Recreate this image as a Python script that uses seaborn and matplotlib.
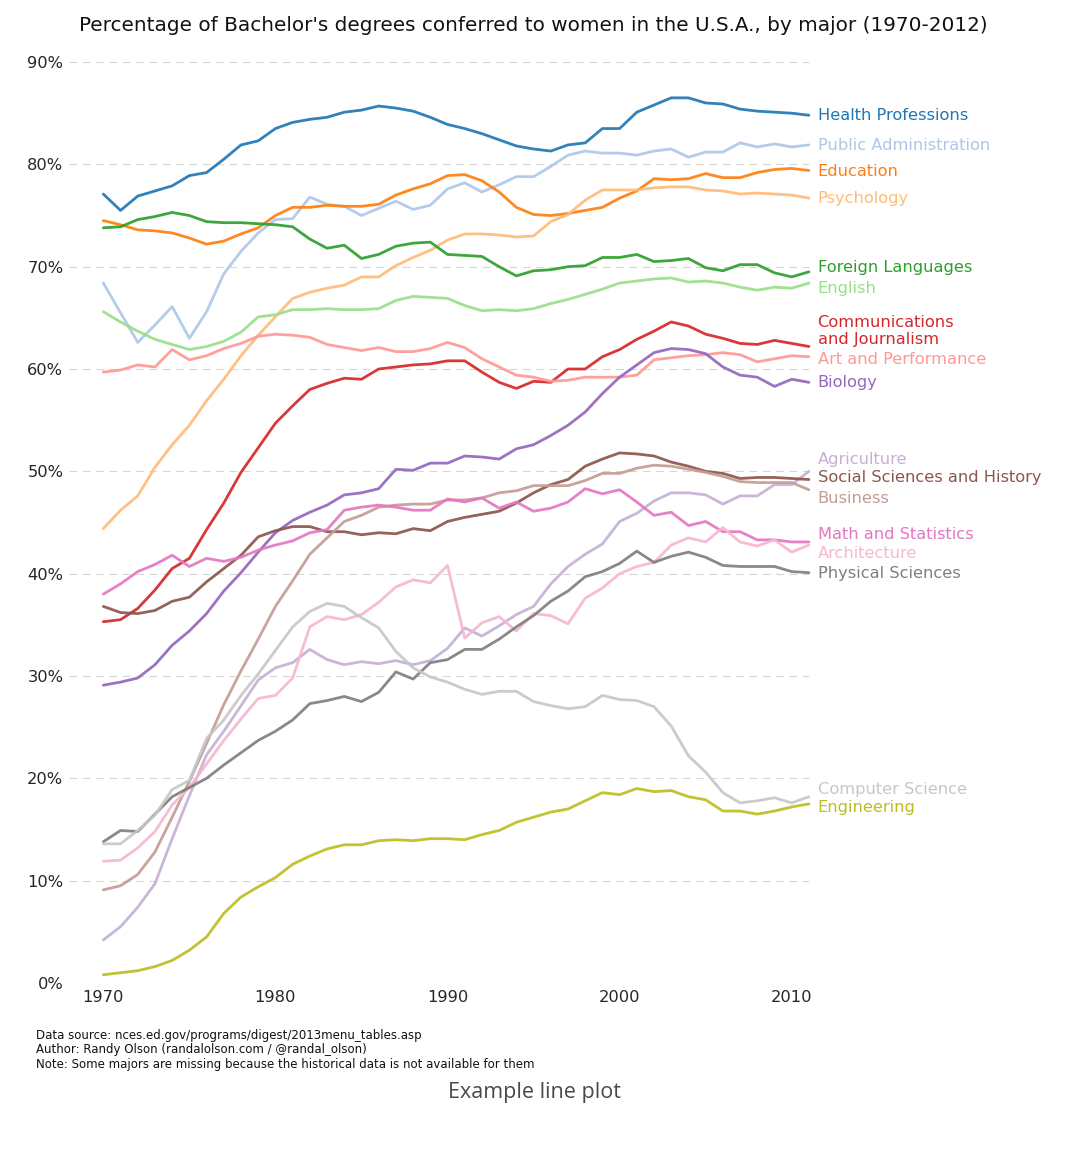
import matplotlib
matplotlib.use("Agg")
import matplotlib.pyplot as plt
import pandas as pd
import seaborn as sns

# Percentage of bachelor's degrees conferred to women, 1970-2011
years = list(range(1970, 2012))

health = [77.1, 75.5, 76.9, 77.4, 77.9, 78.9, 79.2, 80.5, 81.9, 82.3, 83.5, 84.1, 84.4, 84.6,
          85.1, 85.3, 85.7, 85.5, 85.2, 84.6, 83.9, 83.5, 83.0, 82.4, 81.8, 81.5, 81.3, 81.9,
          82.1, 83.5, 83.5, 85.1, 85.8, 86.5, 86.5, 86.0, 85.9, 85.4, 85.2, 85.1, 85.0, 84.8]
public_admin = [68.4, 65.5, 62.6, 64.3, 66.1, 63.0, 65.6, 69.3, 71.5, 73.3, 74.6, 74.7, 76.8, 76.1,
                75.9, 75.0, 75.7, 76.4, 75.6, 76.0, 77.6, 78.2, 77.3, 78.0, 78.8, 78.8, 79.8, 80.9,
                81.3, 81.1, 81.1, 80.9, 81.3, 81.5, 80.7, 81.2, 81.2, 82.1, 81.7, 82.0, 81.7, 81.9]
education = [74.5, 74.1, 73.6, 73.5, 73.3, 72.8, 72.2, 72.5, 73.2, 73.8, 75.0, 75.8, 75.8, 76.0,
             75.9, 75.9, 76.1, 77.0, 77.6, 78.1, 78.9, 79.0, 78.4, 77.3, 75.8, 75.1, 75.0, 75.2,
             75.5, 75.8, 76.7, 77.4, 78.6, 78.5, 78.6, 79.1, 78.7, 78.7, 79.2, 79.5, 79.6, 79.4]
psychology = [44.4, 46.2, 47.6, 50.4, 52.6, 54.5, 56.9, 59.0, 61.3, 63.3, 65.1, 66.9, 67.5, 67.9,
              68.2, 69.0, 69.0, 70.1, 70.9, 71.6, 72.6, 73.2, 73.2, 73.1, 72.9, 73.0, 74.4, 75.1,
              76.5, 77.5, 77.5, 77.5, 77.7, 77.8, 77.8, 77.5, 77.4, 77.1, 77.2, 77.1, 77.0, 76.7]
foreign_lang = [73.8, 73.9, 74.6, 74.9, 75.3, 75.0, 74.4, 74.3, 74.3, 74.2, 74.1, 73.9, 72.7, 71.8,
                72.1, 70.8, 71.2, 72.0, 72.3, 72.4, 71.2, 71.1, 71.0, 70.0, 69.1, 69.6, 69.7, 70.0,
                70.1, 70.9, 70.9, 71.2, 70.5, 70.6, 70.8, 69.9, 69.6, 70.2, 70.2, 69.4, 69.0, 69.5]
english = [65.6, 64.6, 63.7, 62.9, 62.4, 61.9, 62.2, 62.7, 63.6, 65.1, 65.3, 65.8, 65.8, 65.9,
           65.8, 65.8, 65.9, 66.7, 67.1, 67.0, 66.9, 66.2, 65.7, 65.8, 65.7, 65.9, 66.4, 66.8,
           67.3, 67.8, 68.4, 68.6, 68.8, 68.9, 68.5, 68.6, 68.4, 68.0, 67.7, 68.0, 67.9, 68.4]
communications = [35.3, 35.5, 36.6, 38.4, 40.5, 41.5, 44.3, 46.9, 49.9, 52.3, 54.7, 56.4, 58.0, 58.6,
                  59.1, 59.0, 60.0, 60.2, 60.4, 60.5, 60.8, 60.8, 59.7, 58.7, 58.1, 58.8, 58.7, 60.0,
                  60.0, 61.2, 61.9, 62.9, 63.7, 64.6, 64.2, 63.4, 63.0, 62.5, 62.4, 62.8, 62.5, 62.2]
art = [59.7, 59.9, 60.4, 60.2, 61.9, 60.9, 61.3, 62.0, 62.5, 63.2, 63.4, 63.3, 63.1, 62.4,
       62.1, 61.8, 62.1, 61.7, 61.7, 62.0, 62.6, 62.1, 61.0, 60.2, 59.4, 59.2, 58.8, 58.9,
       59.2, 59.2, 59.2, 59.4, 60.9, 61.1, 61.3, 61.4, 61.6, 61.4, 60.7, 61.0, 61.3, 61.2]
biology = [29.1, 29.4, 29.8, 31.1, 33.0, 34.4, 36.1, 38.3, 40.1, 42.1, 44.0, 45.2, 46.0, 46.7,
           47.7, 47.9, 48.3, 50.2, 50.1, 50.8, 50.8, 51.5, 51.4, 51.2, 52.2, 52.6, 53.5, 54.5,
           55.8, 57.6, 59.2, 60.4, 61.6, 62.0, 61.9, 61.5, 60.2, 59.4, 59.2, 58.3, 59.0, 58.7]
agriculture = [4.2, 5.5, 7.4, 9.7, 14.1, 18.3, 22.3, 24.6, 27.1, 29.6, 30.8, 31.3, 32.6, 31.6,
               31.1, 31.4, 31.2, 31.5, 31.1, 31.5, 32.7, 34.7, 33.9, 34.9, 36.0, 36.8, 39.0, 40.7,
               41.9, 42.9, 45.1, 45.9, 47.1, 47.9, 47.9, 47.7, 46.8, 47.6, 47.6, 48.7, 48.7, 50.0]
social_sci = [36.8, 36.2, 36.1, 36.4, 37.3, 37.7, 39.2, 40.5, 41.8, 43.6, 44.2, 44.6, 44.6, 44.1,
              44.1, 43.8, 44.0, 43.9, 44.4, 44.2, 45.1, 45.5, 45.8, 46.1, 46.9, 47.9, 48.7, 49.2,
              50.5, 51.2, 51.8, 51.7, 51.5, 50.9, 50.5, 50.0, 49.8, 49.3, 49.4, 49.4, 49.3, 49.2]
business = [9.1, 9.5, 10.6, 12.8, 16.2, 19.7, 23.4, 27.2, 30.5, 33.6, 36.8, 39.3, 41.9, 43.5,
            45.1, 45.7, 46.5, 46.7, 46.8, 46.8, 47.2, 47.2, 47.4, 47.9, 48.1, 48.6, 48.6, 48.6,
            49.1, 49.8, 49.8, 50.3, 50.6, 50.5, 50.2, 49.9, 49.5, 49.0, 48.9, 48.9, 48.9, 48.2]
math_stats = [38.0, 39.0, 40.2, 40.9, 41.8, 40.7, 41.5, 41.2, 41.6, 42.3, 42.8, 43.2, 44.0, 44.3,
              46.2, 46.5, 46.7, 46.5, 46.2, 46.2, 47.3, 47.0, 47.4, 46.4, 47.0, 46.1, 46.4, 47.0,
              48.3, 47.8, 48.2, 47.0, 45.7, 46.0, 44.7, 45.1, 44.1, 44.1, 43.3, 43.3, 43.1, 43.1]
architecture = [11.9, 12.0, 13.2, 14.8, 17.4, 19.1, 21.4, 23.7, 25.8, 27.8, 28.1, 29.8, 34.8, 35.8,
                35.5, 36.0, 37.2, 38.7, 39.4, 39.1, 40.8, 33.7, 35.2, 35.8, 34.4, 36.1, 35.9, 35.1,
                37.6, 38.6, 40.0, 40.7, 41.1, 42.8, 43.5, 43.1, 44.5, 43.1, 42.7, 43.3, 42.1, 42.8]
physical_sci = [13.8, 14.9, 14.8, 16.5, 18.2, 19.1, 20.0, 21.3, 22.5, 23.7, 24.6, 25.7, 27.3, 27.6,
                28.0, 27.5, 28.4, 30.4, 29.7, 31.3, 31.6, 32.6, 32.6, 33.6, 34.8, 35.9, 37.3, 38.3,
                39.7, 40.2, 41.0, 42.2, 41.1, 41.7, 42.1, 41.6, 40.8, 40.7, 40.7, 40.7, 40.2, 40.1]
computer_sci = [13.6, 13.6, 14.9, 16.4, 18.9, 19.8, 23.9, 25.7, 28.1, 30.2, 32.5, 34.8, 36.3, 37.1,
                36.8, 35.7, 34.7, 32.4, 30.8, 29.9, 29.4, 28.7, 28.2, 28.5, 28.5, 27.5, 27.1, 26.8,
                27.0, 28.1, 27.7, 27.6, 27.0, 25.1, 22.2, 20.6, 18.6, 17.6, 17.8, 18.1, 17.6, 18.2]
engineering = [0.8, 1.0, 1.2, 1.6, 2.2, 3.2, 4.5, 6.8, 8.4, 9.4, 10.3, 11.6, 12.4, 13.1,
               13.5, 13.5, 13.9, 14.0, 13.9, 14.1, 14.1, 14.0, 14.5, 14.9, 15.7, 16.2, 16.7, 17.0,
               17.8, 18.6, 18.4, 19.0, 18.7, 18.8, 18.2, 17.9, 16.8, 16.8, 16.5, 16.8, 17.2, 17.5]

majors = ["Health Professions", "Public Administration", "Education", "Psychology",
          "Foreign Languages", "English", "Communications\nand Journalism",
          "Art and Performance", "Biology", "Agriculture", "Social Sciences and History",
          "Business", "Math and Statistics", "Architecture", "Physical Sciences",
          "Computer Science", "Engineering"]
series = [health, public_admin, education, psychology, foreign_lang, english, communications,
          art, biology, agriculture, social_sci, business, math_stats, architecture,
          physical_sci, computer_sci, engineering]

# nudges so the end labels don't overlap
label_shift = {"Foreign Languages": 0.5, "English": -0.5, "Communications\nand Journalism": 0.75,
               "Art and Performance": -0.25, "Agriculture": 1.25,
               "Social Sciences and History": 0.25, "Business": -0.75,
               "Math and Statistics": 0.75, "Architecture": -0.75,
               "Computer Science": 0.75, "Engineering": -0.25}

colors = sns.color_palette("tab20", 20)[:17]

rows = []
for major, vals in zip(majors, series):
    for yr, v in zip(years, vals):
        rows.append((yr, v, major))
df = pd.DataFrame(rows, columns=["Year", "Percent", "Major"])

sns.set_style("white")
fig = plt.figure(figsize=(10.8, 11.51), dpi=100)
ax = fig.add_axes([0.0638, 0.1460, 0.7330, 0.8001])
for s in ax.spines.values():
    s.set_visible(False)

ax.set_ylim(0, 90)
ax.set_xlim(1968, 2014)
ax.set_yticks(range(0, 91, 10))
ax.set_yticklabels([f"{y}%" for y in range(0, 91, 10)])
ax.set_xticks([1970, 1980, 1990, 2000, 2010])
ax.tick_params(axis="both", length=0, labelsize=11.7, labelcolor="#262626")
ax.tick_params(axis="y", pad=4)
ax.tick_params(axis="x", pad=5)

for y in range(10, 91, 10):
    ax.plot([1968, 2011], [y, y], color="black", alpha=0.16, lw=0.8, dashes=(7, 5), zorder=0)

sns.lineplot(data=df, x="Year", y="Percent", hue="Major", hue_order=majors,
             palette=colors, lw=2.0, alpha=0.92, estimator=None, legend=False, ax=ax)
ax.set_xlabel("")
ax.set_ylabel("")

for major, vals, c in zip(majors, series, colors):
    y_pos = vals[-1] - 0.5 + label_shift.get(major, 0)
    ax.text(2011.5, y_pos, major, fontsize=11.7, color=c)

ax.text(1995, 93, "Percentage of Bachelor's degrees conferred to women in the U.S.A., by major (1970-2012)",
        fontsize=14.4, ha="center", color="#111111")
fig.text(0.033, 0.1058,
         "Data source: nces.ed.gov/programs/digest/2013menu_tables.asp\n"
         "Author: Randy Olson (randalolson.com / @randal_olson)\n"
         "Note: Some majors are missing because the historical data is not available for them",
         fontsize=8.5, va="top", linespacing=1.12, color="#111111")

fig.text(0.495, 0.051, "Example line plot", fontsize=15.5, ha="center", va="center",
         color="#4a4a4a", family=["Open Sans", "DejaVu Sans"])

fig.savefig("out.png", dpi=100)
